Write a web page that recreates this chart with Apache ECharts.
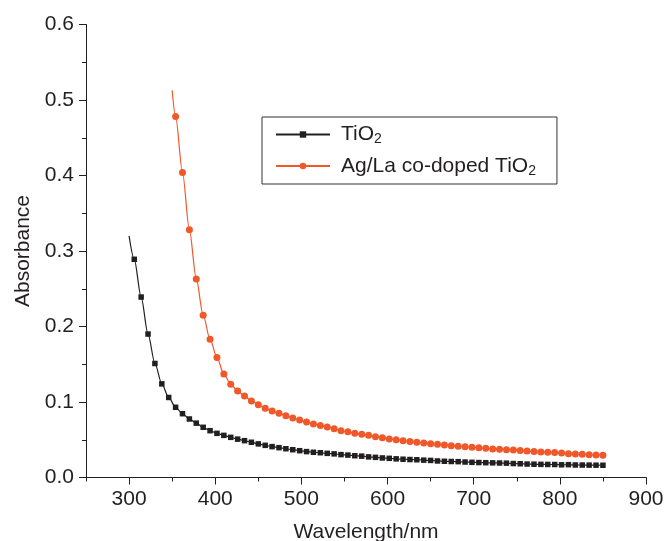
<!DOCTYPE html>
<html>
<head>
<meta charset="utf-8">
<script src="https://cdn.jsdelivr.net/npm/echarts@6/dist/echarts.min.js"></script>
<style>
  html, body { margin: 0; padding: 0; background: #fff; }
  #chart { width: 665px; height: 541px; }
</style>
</head>
<body>
<div id="chart"></div>
<script>
// Wavelength (nm) of each sample; the first sample of each curve is drawn without a marker
const tio2Wavelength = [300, 306, 314, 322, 330, 338, 346, 354, 362, 370, 378, 386, 394, 402, 410, 418, 426, 434, 442, 450, 458, 466, 474, 482, 490, 498, 506, 514, 522, 530, 538, 546, 554, 562, 570, 578, 586, 594, 602, 610, 618, 626, 634, 642, 650, 658, 666, 674, 682, 690, 698, 706, 714, 722, 730, 738, 746, 754, 762, 770, 778, 786, 794, 802, 810, 818, 826, 834, 842, 850];
const tio2Absorbance = [0.320, 0.289, 0.239, 0.190, 0.151, 0.124, 0.106, 0.093, 0.0845, 0.0775, 0.072, 0.0665, 0.062, 0.0585, 0.0558, 0.0532, 0.0508, 0.0488, 0.0467, 0.0445, 0.0426, 0.0409, 0.0395, 0.0381, 0.0368, 0.0355, 0.0343, 0.0334, 0.0328, 0.0320, 0.0313, 0.0303, 0.0297, 0.0288, 0.0283, 0.0273, 0.0267, 0.0259, 0.0254, 0.0247, 0.0242, 0.0238, 0.0235, 0.0230, 0.0226, 0.0219, 0.0215, 0.0212, 0.0210, 0.0205, 0.0201, 0.0198, 0.0196, 0.0194, 0.0192, 0.0190, 0.0185, 0.0182, 0.0178, 0.0176, 0.0174, 0.0173, 0.0172, 0.0168, 0.0170, 0.0166, 0.0165, 0.0164, 0.0163, 0.0162];

const dopedWavelength = [350, 354, 362, 370, 378, 386, 394, 402, 410, 418, 426, 434, 442, 450, 458, 466, 474, 482, 490, 498, 506, 514, 522, 530, 538, 546, 554, 562, 570, 578, 586, 594, 602, 610, 618, 626, 634, 642, 650, 658, 666, 674, 682, 690, 698, 706, 714, 722, 730, 738, 746, 754, 762, 770, 778, 786, 794, 802, 810, 818, 826, 834, 842, 850];
const dopedAbsorbance = [0.513, 0.478, 0.404, 0.328, 0.263, 0.215, 0.183, 0.159, 0.137, 0.1234, 0.1146, 0.1079, 0.1013, 0.0965, 0.0917, 0.0880, 0.0850, 0.0818, 0.0788, 0.0760, 0.0735, 0.0710, 0.0688, 0.0668, 0.0645, 0.0620, 0.0605, 0.0586, 0.0572, 0.0558, 0.0541, 0.0525, 0.0511, 0.0500, 0.0488, 0.0478, 0.0466, 0.0457, 0.0448, 0.0440, 0.0431, 0.0422, 0.0414, 0.0408, 0.0400, 0.0394, 0.0387, 0.0379, 0.0374, 0.0368, 0.0364, 0.0359, 0.0351, 0.0343, 0.0338, 0.0334, 0.0331, 0.0325, 0.0316, 0.0311, 0.0307, 0.0302, 0.0298, 0.0294];

const seriesNames = ['TiO2', 'Ag/La co-doped TiO2'];
const xMajorTicks = [300, 400, 500, 600, 700, 800, 900];

const INK = '#231f20';
const RED = '#f0582a';
const FONT = '"Liberation Sans", Arial, sans-serif';

function toPoints(xs, ys) {
  return xs.map((x, i) => i === 0
    ? { value: [x, ys[i]], symbol: 'none' }
    : [x, ys[i]]);
}

const chart = echarts.init(document.getElementById('chart'), null, { renderer: 'canvas' });

const axisText = { color: INK, fontSize: 21, fontFamily: FONT };

chart.setOption({
  backgroundColor: '#ffffff',
  animation: false,
  grid: { left: 86, right: 19, top: 24.5, bottom: 63.5, containLabel: false, outerBoundsMode: 'none' },
  legend: {
    orient: 'vertical',
    left: 262,
    top: 117,
    data: seriesNames,
    itemWidth: 54,
    itemHeight: 8,
    itemGap: 9,
    padding: [7, 21, 6, 13],
    borderColor: '#333333',
    borderWidth: 1,
    backgroundColor: '#ffffff',
    formatter: function (name) {
      return '{t|' + name.slice(0, -1) + '}{s|' + name.slice(-1) + '}';
    },
    textStyle: {
      rich: {
        t: { fontSize: 21, fontFamily: FONT, color: INK, lineHeight: 24, padding: [0, 0, 0, 6] },
        s: { fontSize: 14, fontFamily: FONT, color: INK, lineHeight: 10, verticalAlign: 'bottom' }
      }
    }
  },
  xAxis: [
    {
      type: 'value',
      min: 250,
      max: 900,
      interval: 50,
      position: 'bottom',
      axisLine: { show: true, onZero: false, lineStyle: { color: INK, width: 1 } },
      axisTick: { show: true, inside: false, length: 4, lineStyle: { color: INK } },
      axisLabel: { show: false },
      splitLine: { show: false }
    },
    {
      type: 'value',
      min: 250,
      max: 900,
      position: 'bottom',
      name: 'Wavelength/nm',
      nameLocation: 'middle',
      nameGap: 44,
      nameTextStyle: axisText,
      axisLine: { show: false, onZero: false },
      axisTick: { show: true, inside: false, length: 7, customValues: xMajorTicks, lineStyle: { color: INK } },
      axisLabel: Object.assign({ customValues: xMajorTicks, margin: 11 }, axisText),
      splitLine: { show: false }
    }
  ],
  yAxis: {
    type: 'value',
    min: 0,
    max: 0.6,
    interval: 0.1,
    name: 'Absorbance',
    nameLocation: 'middle',
    nameRotate: 90,
    nameGap: 52,
    nameTextStyle: axisText,
    axisLine: { show: true, onZero: false, lineStyle: { color: INK, width: 1 } },
    axisTick: { show: true, inside: false, length: 7, lineStyle: { color: INK } },
    minorTick: { show: true, splitNumber: 2, length: 4, lineStyle: { color: INK } },
    axisLabel: Object.assign({ margin: 12, formatter: v => v.toFixed(1) }, axisText),
    splitLine: { show: false }
  },
  series: [
    {
      name: seriesNames[0],
      type: 'line',
      xAxisIndex: 0,
      data: toPoints(tio2Wavelength, tio2Absorbance),
      smooth: 0.3,
      smoothMonotone: 'x',
      symbol: 'rect',
      symbolSize: 5.5,
      showAllSymbol: true,
      color: INK,
      lineStyle: { color: INK, width: 1.2 },
      itemStyle: { color: INK }
    },
    {
      name: seriesNames[1],
      type: 'line',
      xAxisIndex: 0,
      data: toPoints(dopedWavelength, dopedAbsorbance),
      smooth: 0.3,
      smoothMonotone: 'x',
      symbol: 'circle',
      symbolSize: 7,
      showAllSymbol: true,
      color: RED,
      lineStyle: { color: RED, width: 1.2 },
      itemStyle: { color: RED }
    }
  ]
});
</script>
</body>
</html>
